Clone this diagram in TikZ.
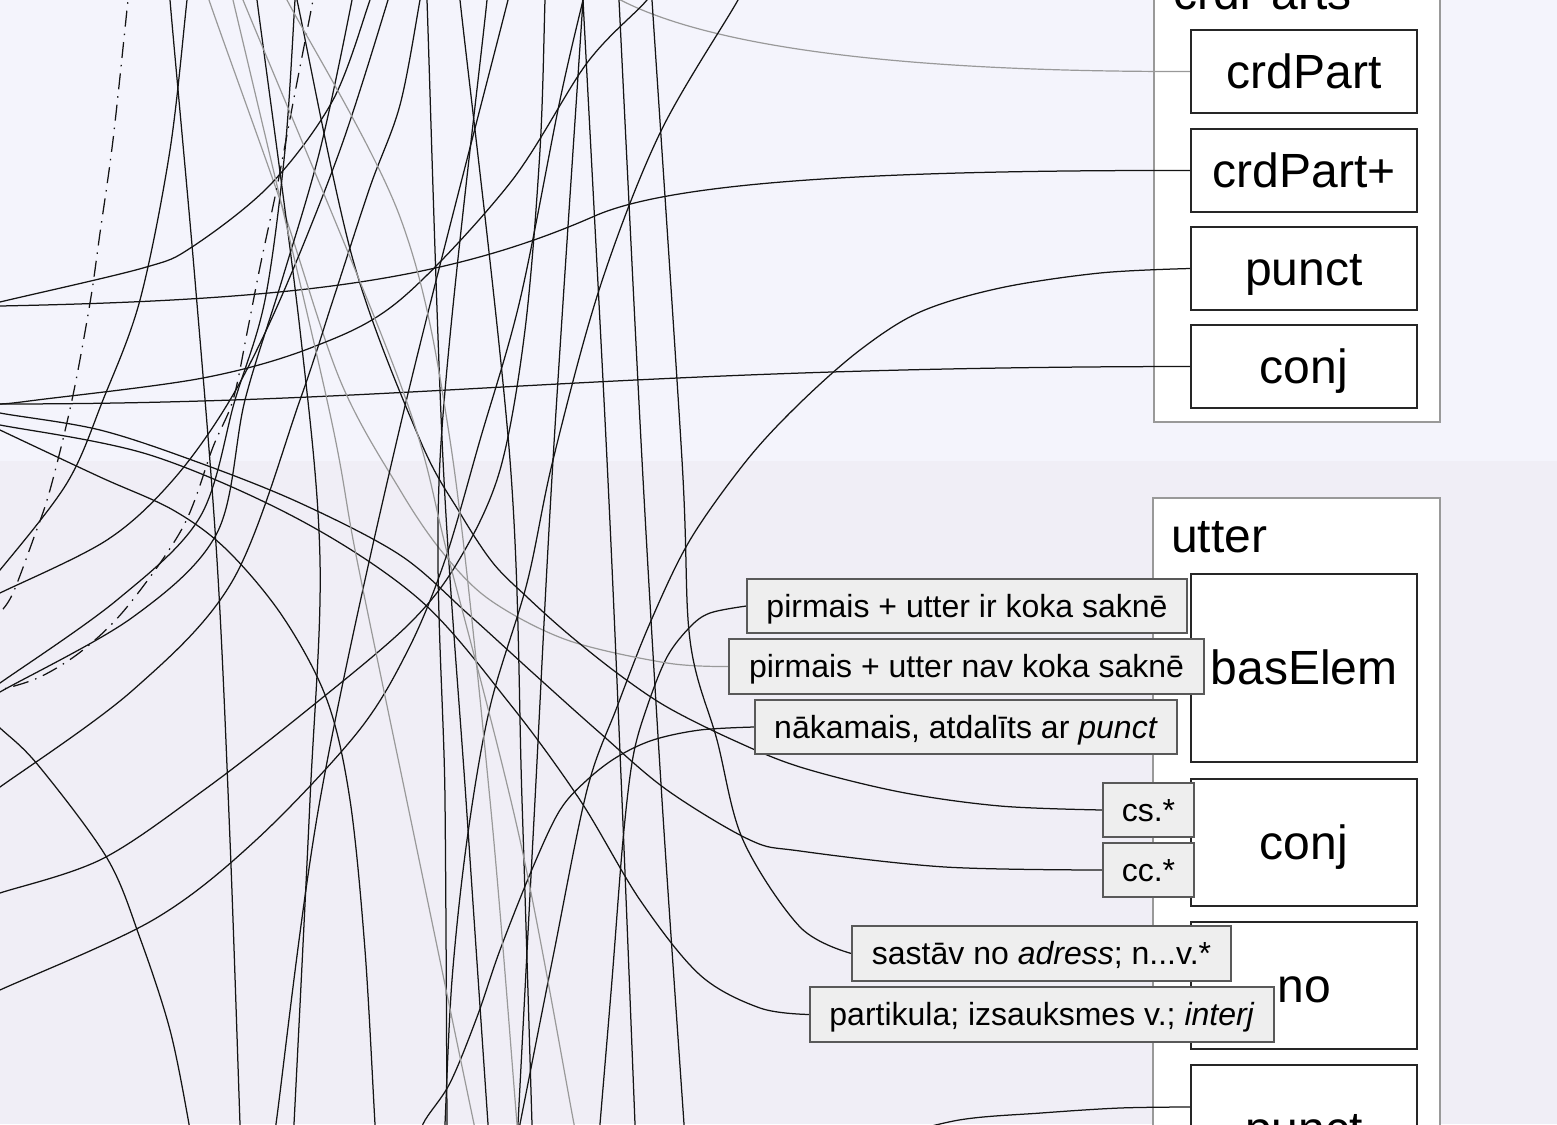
\documentclass[tikz,border=0pt]{standalone}
\usepackage{fontspec}
\setmainfont{Liberation Sans}
\definecolor{bgtop}{HTML}{F4F4FC}
\definecolor{bgbot}{HTML}{F0EEF6}
\definecolor{lblfill}{HTML}{EEEEEE}
\pgfdeclarelayer{back}
\pgfdeclarelayer{lines}
\pgfsetlayers{back,lines,main}
\tikzset{
  ln/.style={line width=1.25pt, color=black!92},
  gln/.style={line width=1.2pt, color=black!40},
  ddash/.style={ln, dash pattern=on 16pt off 7pt on 1.5pt off 7pt},
  grp/.style={draw=black!40, fill=white, line width=1.2pt},
  mbox/.style={draw=black!85, fill=white, line width=1.2pt, inner sep=0pt,
    minimum width=226pt, font=\fontsize{48}{58}\selectfont,
    text height=43.4pt, text depth=10.2pt},
  lbl/.style={draw=black!65, fill=lblfill, line width=1.2pt, inner sep=0pt,
    minimum height=54pt, font=\fontsize{32}{38}\selectfont,
    text height=29pt, text depth=6.8pt},
  ttl/.style={anchor=base west, inner sep=0pt, font=\fontsize{48}{58}\selectfont},
  sm/.style={smooth, tension=0.55}
}
\begin{document}
\begin{tikzpicture}[x=1pt,y=-1pt]
\useasboundingbox (0,0) rectangle (1557,1124);
\begin{pgfonlayer}{back}
  \fill[bgtop] (0,0) rectangle (1557,461);
  \fill[bgbot] (0,461) rectangle (1557,1124);
  \begin{scope}
    \clip (0,0) rectangle (1557,1124);
    \draw[grp] (1154,-60) rectangle (1440,422);
    \draw[grp] (1153,498) rectangle (1440,1200);
  \end{scope}
\end{pgfonlayer}

% titles
\node[ttl] (tcrd) at (1173,9.5) {crdParts};
\node[ttl] (tutter) at (1171,552) {utter};

% inner boxes
\node[mbox, minimum height=83pt] (crdPart) at (1304,71.5) {crdPart};
\node[mbox, minimum height=83pt] (crdPartP) at (1304,170.5) {crdPart+};
\node[mbox, minimum height=83pt] (punctA) at (1304,268.5) {punct};
\node[mbox, minimum height=83pt] (conjA) at (1304,366.5) {conj};
\node[mbox, minimum height=188pt] (basElem) at (1304,668) {basElem};
\node[mbox, minimum height=127pt] (conjB) at (1304,842.5) {conj};
\node[mbox, minimum height=127pt] (noB) at (1304,985.5) {no};
\node[mbox, minimum height=127pt] (punctB) at (1304,1128.5) {punct};

% labels
\node[lbl, minimum width=440pt] (lIr) at (967,606) {pirmais + utter ir koka saknē};
\node[lbl, minimum width=475pt, minimum height=55pt] (lNav) at (966.5,666.5) {pirmais + utter nav koka saknē};
\node[lbl, minimum width=422pt] (lNak) at (966,727) {nākamais, atdalīts ar \textit{punct}};
\node[lbl, minimum width=91pt] (lCs) at (1148.5,810) {cs.*};
\node[lbl, minimum width=91pt] (lCc) at (1148.5,870) {cc.*};
\node[lbl, minimum width=379pt, minimum height=55pt] (lSas) at (1041.5,953.5) {sastāv no \textit{adress}; n...v.*};
\node[lbl, minimum width=464pt, minimum height=55pt] (lPar) at (1042,1014.5) {partikula; izsauksmes v.; \textit{interj}};

\coordinate (pBin) at ([yshift=21.5pt]punctB.west);
\coordinate (fan) at (0,404);

\begin{pgfonlayer}{lines}
\begin{scope}
\clip (0,0) rectangle (1557,1124);
% connectors to the crdParts boxes
\draw[gln] (600,-12) .. controls (700,55) and (950,72) .. (crdPart.west);
\draw[ln] (-40,307) -- (0,306) .. controls (300,300) and (450,280) .. (597,215)
          .. controls (680,180) and (900,170) .. (crdPartP.west);
\draw[ln] (-40,405) -- (fan) .. controls (420,404) and (600,367) .. (conjA.west);
\draw[ln] plot[sm] coordinates {(515,1150) (520,1124) (553,957) (587,790) (617,707) (650,623) (690,540) (747,460) (800,403) (860,350) (920,312) (1000,288) (1100,273) (punctA.west)};
% connectors to the utter labels
\draw[ln] plot[sm] coordinates {(598,1150) (600,1124) (612,980) (623,840) (633,757) (647,707) (667,657) (690,627) (710,613) (lIr.west)};
\draw[gln] plot[sm] coordinates {(205,-20) (209,0) (280,200) (340,380) (400,490) (443,553) (490,600) (567,640) (667,663) (lNav.west)};
\draw[ln] plot[sm] coordinates {(420,1150) (423,1124) (450,1083) (477,1017) (500,950) (533,867) (560,810) (587,780) (617,757) (653,740) (700,730) (lNak.west)};
\draw[ln] plot[sm] coordinates {(292,-20) (297,0) (353,260) (420,440) (460,513) (493,563) (527,597) (567,633) (617,673) (667,707) (733,740) (800,767) (900,792) (1000,806) (lCs.west)};
\draw[ln] plot[sm] coordinates {(-30,405) (0,413) (100,430) (200,463) (300,503) (400,555) (467,613) (533,673) (600,733) (667,790) (750,840) (800,851) (945,867) (lCc.west)};
\draw[ln] plot[sm] coordinates {(651,-20) (652,0) (682,460) (690,640) (717,740) (743,840) (800,927) (lSas.west)};
\draw[ln] plot[sm] coordinates {(-30,420) (0,425) (150,455) (300,520) (420,600) (510,704) (580,800) (640,900) (700,975) (760,1008) (lPar.west)};
\draw[ln] plot[sm] coordinates {(880,1140) (959,1120) (1041,1113) (1120,1108) (pBin)};
% free lines, top part
\draw[ln] plot[sm] coordinates {(-30,404) (fan) (37,400) (203,378) (313,347) (400,300) (510,183) (587,63) (647,0) (665,-30)};
\draw[ln] plot[sm] coordinates {(-30,310) (0,302) (143,268) (192,247) (270,185) (333,100) (370,0) (378,-25)};
\draw[ln] plot[sm] coordinates {(190,-25) (187,0) (170,150) (140,300) (103,400) (67,483) (0,570) (-20,590)};
\draw[ln] plot[sm] coordinates {(425,-30) (420,0) (400,105) (370,187) (333,300) (300,400) (233,580) (133,690) (0,787) (-20,800)};
\draw[ln] plot[sm] coordinates {(395,-30) (388,0) (340,150) (280,300) (230,400) (173,480) (107,540) (0,593) (-25,605)};
\draw[ln] plot[sm] coordinates {(297,-30) (295,0) (285,150) (265,300) (235,400) (200,517) (117,600) (0,683) (-25,700)};
\draw[ln] plot[sm] coordinates {(355,-30) (352,0) (320,150) (282,280) (245,400) (217,533) (133,617) (0,692) (-25,708)};
\draw[ddash] plot[sm] coordinates {(130,-20) (128,0) (113,140) (100,233) (90,303) (72,400) (50,490) (33,540) (13,593) (0,613) (-10,625)};
\draw[ddash] plot[sm] coordinates {(316,-20) (313,0) (293,103) (277,187) (260,267) (247,333) (233,400) (213,447) (183,527) (127,607) (83,650) (40,677) (0,690) (-20,695)};
% arcs from the left edge
\draw[ln] plot[sm] coordinates {(-20,710) (0,728) (38,765) (107,858) (140,938) (170,1030) (189,1124) (192,1150)};
\draw[ln] plot[sm] coordinates {(-20,900) (0,893) (102,859) (204,790) (306,711) (408,625) (459,560) (500,470) (525,330) (540,150) (545,0) (546,-20)};
\draw[ln] plot[sm] coordinates {(-20,1000) (0,990) (153,920) (255,841) (357,733) (408,650) (445,560) (480,440) (520,300) (560,100) (583,0) (588,-20)};
\draw[ln] plot[sm] coordinates {(-20,420) (0,430) (100,477) (173,510) (227,550) (283,617) (327,700) (350,800) (365,950) (375,1124) (377,1150)};
\draw[ln] plot[sm] coordinates {(745,-20) (738,0) (660,133) (600,287) (553,460) (527,583) (490,707) (467,840) (452,980) (445,1124) (444,1150)};
% near-vertical lines
\draw[ln] plot[sm] coordinates {(170,-20) (170,0) (195,280) (217,560) (230,840) (240,1124) (241,1150)};
\draw[ln] plot[sm] coordinates {(255,-20) (257,0) (300,330) (320,560) (310,800) (294,1124) (292,1150)};
\draw[ln] plot[sm] coordinates {(426,-20) (427,0) (443,460) (466,800) (488,1124) (490,1150)};
\draw[ln] plot[sm] coordinates {(458,-20) (460,0) (510,460) (522,800) (532,1124) (533,1150)};
\draw[ln] plot[sm] coordinates {(489,-20) (487,0) (440,460) (445,800) (447,1124) (447,1150)};
\draw[ln] plot[sm] coordinates {(513,-20) (508,0) (400,427) (320,800) (276,1124) (272,1150)};
\draw[ln] plot[sm] coordinates {(584,-20) (583,0) (553,460) (535,800) (518,1124) (517,1150)};
\draw[ln] plot[sm] coordinates {(582,-20) (583,0) (607,460) (622,800) (635,1124) (636,1150)};
\draw[ln] plot[sm] coordinates {(618,-20) (619,0) (642,460) (662,800) (684,1124) (686,1150)};
% gray near-vertical lines
\draw[gln] plot[sm] coordinates {(228,-20) (233,0) (327,400) (357,560) (415,840) (474,1124) (480,1150)};
\draw[gln] plot[sm] coordinates {(235,-20) (243,0) (400,383) (449,560) (520,840) (574,1124) (579,1150)};
\draw[gln] plot[sm] coordinates {(277,-20) (287,0) (400,217) (450,440) (490,800) (517,1124) (519,1150)};
\end{scope}
\end{pgfonlayer}
\end{tikzpicture}
\end{document}
